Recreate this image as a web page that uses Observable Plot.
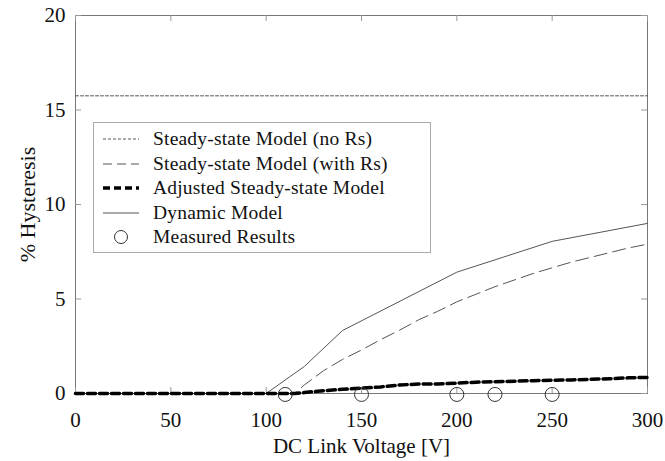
<!DOCTYPE html>
<html>
<head>
<meta charset="utf-8">
<script src="https://cdn.jsdelivr.net/npm/d3@7"></script>
<script src="https://cdn.jsdelivr.net/npm/@observablehq/plot@0.6"></script>
<style>
body{margin:0;background:#fff;}
#wrap{position:relative;width:665px;height:461px;font-family:"Liberation Serif","Times New Roman",serif;}
#legend{position:absolute;left:93px;top:122px;width:336px;height:129px;background:#fff;border:1px solid #aaa;}
.row{position:absolute;left:8px;height:24px;display:flex;align-items:center;font-size:19.5px;color:#111;letter-spacing:0.2px;}
.row svg{margin-right:13px;}
</style>
</head>
<body>
<div id="wrap"></div>
<script>
// ---- data ----
const xTicks = [0, 50, 100, 150, 200, 250, 300];
const yTicks = [0, 5, 10, 15, 20];
const noRsX = [0, 300];
const noRsY = [15.75, 15.75];
const withRsX = [0, 50, 100, 115, 120, 130, 140, 150, 160, 170, 180, 190, 200, 210, 220, 230, 240, 250, 260, 270, 280, 290, 300];
const withRsY = [0, 0, 0, 0, 0.45, 1.2, 1.8, 2.3, 2.85, 3.35, 3.9, 4.35, 4.85, 5.25, 5.65, 6.0, 6.35, 6.65, 6.95, 7.2, 7.45, 7.7, 7.9];
const adjX = [0, 50, 100, 115, 120, 130, 140, 150, 160, 170, 180, 190, 200, 210, 220, 230, 240, 250, 260, 270, 280, 290, 300];
const adjY = [0, 0, 0, 0, 0.05, 0.15, 0.22, 0.28, 0.35, 0.45, 0.5, 0.5, 0.55, 0.6, 0.62, 0.65, 0.68, 0.7, 0.72, 0.75, 0.78, 0.83, 0.85];
const dynX = [0, 50, 100, 120, 140, 200, 250, 300];
const dynY = [0, 0, 0, 1.43, 3.33, 6.42, 8.05, 9.0];
const measX = [110, 150, 200, 220, 250];
const measY = [-0.05, -0.05, -0.05, -0.05, -0.05];
const legendLabels = ["Steady-state Model (no Rs)", "Steady-state Model (with Rs)", "Adjusted Steady-state Model", "Dynamic Model", "Measured Results"];

const zip = (xs, ys) => xs.map((x, i) => ({x, y: ys[i]}));

const W = 665, H = 461, mL = 75, mR = 18, mT = 15, mB = 68;
const fw = W - mL - mR, fh = H - mT - mB;
const tl = 6;

const chart = Plot.plot({
  width: W, height: H,
  marginLeft: mL, marginRight: mR, marginTop: mT, marginBottom: mB,
  style: {fontFamily: '"Liberation Serif","Times New Roman",serif', fontSize: "21px", color: "#111", background: "#fff"},
  x: {domain: [0, 300], label: null},
  y: {domain: [0, 20], label: null},
  marks: [
    Plot.frame({stroke: "#777", strokeWidth: 1}),
    // inward ticks on all four sides
    Plot.tickX(xTicks, {x: d => d, insetTop: fh - tl, stroke: "#999"}),
    Plot.tickX(xTicks, {x: d => d, insetBottom: fh - tl, stroke: "#999"}),
    Plot.tickY(yTicks, {y: d => d, insetRight: fw - tl, stroke: "#999"}),
    Plot.tickY(yTicks, {y: d => d, insetLeft: fw - tl, stroke: "#999"}),
    Plot.axisX(xTicks, {tickSize: 0, tickPadding: 19, fontSize: 21, label: null}),
    Plot.axisY(yTicks, {tickSize: 0, tickPadding: 10, fontSize: 21, label: null}),
    Plot.text(["DC Link Voltage [V]"], {frameAnchor: "bottom", lineAnchor: "middle", dy: 53, fontSize: 21, text: d => d}),
    Plot.text(["% Hysteresis"], {frameAnchor: "left", textAnchor: "middle", dx: -48, rotate: -90, fontSize: 22, text: d => d}),
    Plot.line(zip(noRsX, noRsY), {x: "x", y: "y", stroke: "#555", strokeWidth: 1, strokeDasharray: "3,2"}),
    Plot.line(zip(withRsX, withRsY), {x: "x", y: "y", stroke: "#555", strokeWidth: 1, strokeDasharray: "13,6"}),
    Plot.line(zip(dynX, dynY), {x: "x", y: "y", stroke: "#555", strokeWidth: 1}),
    Plot.line(zip(adjX, adjY), {x: "x", y: "y", stroke: "#000", strokeWidth: 3.5, strokeDasharray: "8,4"}),
    Plot.dot(zip(measX, measY), {x: "x", y: "y", r: 7, stroke: "#333", strokeWidth: 1, fill: "none"})
  ]
});

const wrap = document.getElementById("wrap");
wrap.appendChild(chart);

// legend
const styles = [
  {stroke: "#555", w: 1, dash: "3,2"},
  {stroke: "#555", w: 1, dash: "9,5"},
  {stroke: "#000", w: 3.5, dash: "7,4"},
  {stroke: "#555", w: 1, dash: null},
  {circle: true}
];
const leg = document.createElement("div");
leg.id = "legend";
legendLabels.forEach((lab, i) => {
  const row = document.createElement("div");
  row.className = "row";
  row.style.top = (4 + i * 24.6) + "px";
  const s = styles[i];
  const svg = d3.create("svg").attr("width", 38).attr("height", 20);
  if (s.circle) {
    svg.append("circle").attr("cx", 19).attr("cy", 10).attr("r", 6.5).attr("fill", "none").attr("stroke", "#333");
  } else {
    svg.append("line").attr("x1", 1).attr("x2", 37).attr("y1", 10).attr("y2", 10)
      .attr("stroke", s.stroke).attr("stroke-width", s.w).attr("stroke-dasharray", s.dash);
  }
  row.appendChild(svg.node());
  const t = document.createElement("span");
  t.textContent = lab;
  row.appendChild(t);
  leg.appendChild(row);
});
wrap.appendChild(leg);
</script>
</body>
</html>
